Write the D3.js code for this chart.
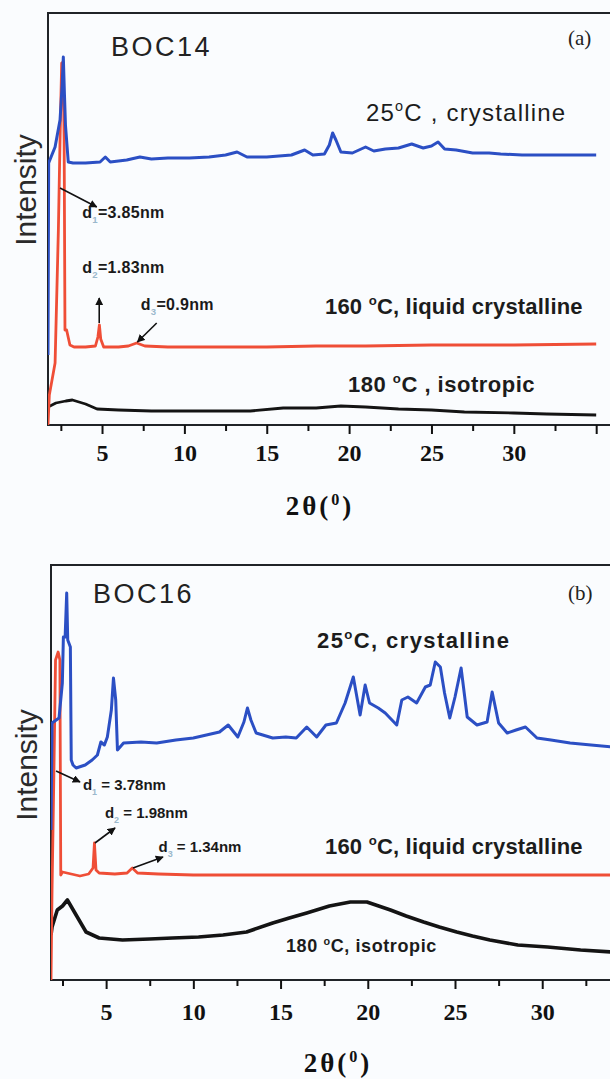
<!DOCTYPE html>
<html>
<head>
<meta charset="utf-8">
<script src="https://cdn.jsdelivr.net/npm/d3@7/dist/d3.min.js"></script>
<style>
  body { margin: 0; background: #fafcfe; }
  svg { display: block; }
</style>
</head>
<body>
<div id="chart"></div>
<script>
// ---- data: [2theta (deg), intensity (a.u.)] ----
// panel (a) BOC14
const boc14_25C = [[1.72,70],[1.76,262],[2.15,278],[2.45,305],[2.58,340],[2.65,368],[2.72,330],[2.78,300],[2.95,263],
  [3.24,262],[4.0,262],[4.88,263],[5.2,268],[5.5,263],[6.5,265],[7.3,268],[8,266],[9,267],[10.3,267],[11.5,268],
  [12.5,270],[13.2,273],[13.8,268],[15,268],[16.5,270],[17.3,275],[17.8,270],[18.5,271],[18.8,280],[19.0,292],
  [19.2,285],[19.5,273],[20.2,272],[21.0,278],[21.5,274],[22.2,276],[23.0,277],[23.8,281],[24.5,277],[25.0,279],
  [25.4,283],[25.8,276],[26.5,275],[27.5,272],[28.5,272],[29.2,271],[30.5,270],[32,270],[33.5,270],[35,270]];
const boc14_160C = [[1.72,0],[1.8,30],[2.15,62],[2.35,195],[2.45,285],[2.55,362],[2.63,363],[2.7,285],[2.75,95],
  [2.85,95],[3.05,80],[3.3,78],[4.0,78],[4.6,79],[4.75,88],[4.84,100],[4.92,86],[5.1,78],[6.0,78],[6.6,79],
  [7.1,82],[7.6,79],[9,78],[12,78],[15,78],[18,79],[21,79],[25,80],[30,80],[35,81]];
const boc14_180C = [[1.72,18],[2.2,22],[2.8,24],[3.2,25],[4.0,21],[4.7,16],[6,15],[8,14],[10,14],[12,14],[14,14],
  [16,17],[18,17],[19.5,19],[21,18],[23,16],[25,15],[27,13],[30,12],[32,11],[35,10]];

// panel (b) BOC16
const boc16_25C = [[1.84,150],[1.9,257],[2.3,262],[2.49,297],[2.55,343],[2.65,343],[2.74,387],[2.8,340],[2.95,333],
  [3.0,220],[3.1,215],[3.28,212],[3.8,215],[4.2,220],[4.5,225],[4.7,238],[4.9,235],[5.07,243],[5.3,270],[5.42,302],
  [5.55,280],[5.65,230],[6.0,237],[7.0,238],[7.9,237],[9.0,240],[10.0,242],[10.75,245],[11.5,248],[12.0,255],
  [12.55,243],[12.9,258],[13.1,272],[13.3,260],[13.6,247],[14.55,242],[15.3,243],[15.9,242],[16.5,253],[17.07,243],
  [17.6,255],[18.2,257],[18.7,277],[19.17,303],[19.56,265],[19.85,295],[20.1,277],[20.6,272],[21.0,267],[21.66,255],
  [21.95,280],[22.3,283],[22.8,277],[23.3,293],[23.58,295],[23.87,318],[24.16,313],[24.4,287],[24.7,262],[25.0,283],
  [25.35,312],[25.7,263],[26.26,255],[26.84,258],[27.13,288],[27.5,257],[27.99,247],[28.5,250],[29.04,253],
  [29.7,242],[30.5,240],[31.6,237],[32.8,235],[34,233]];
const boc16_160C = [[1.84,0],[1.9,90],[2.0,200],[2.1,320],[2.25,328],[2.35,320],[2.4,105],[2.5,108],[3.0,106],
  [3.5,104],[4.0,106],[4.25,112],[4.33,137],[4.42,110],[4.6,107],[5.5,106],[6.2,107],[6.5,112],[6.8,107],[8,106],
  [10,105],[15,105],[20,105],[25,105],[30,105],[34,105]];
const boc16_180C = [[1.84,45],[1.9,53],[2.2,70],[2.5,74],[2.78,80],[3.28,65],[3.85,48],[4.6,42],[5.94,40],[7.5,41],
  [8.8,42],[10.3,43],[11.7,45],[13.05,48],[14.55,57],[15.5,62],[16.5,67],[17.8,74],[19.0,78],[19.95,78],[21.3,70],
  [22.2,64],[23.2,58],[24.1,53],[25.1,48],[26,44],[27.0,40],[28.6,35],[30.3,33],[32.2,30],[34,28]];

const majorTicks = [5, 10, 15, 20, 25, 30, 35];
const minorTicks = [2.5, 7.5, 12.5, 17.5, 22.5, 27.5, 32.5];
const tickLabels = ["5", "10", "15", "20", "25", "30", ""];

const cBlue = "#2b4fc4", cRed = "#ef4e37", cBlack = "#141414";

const W = 610, H = 1079;
const svg = d3.select("#chart").append("svg")
  .attr("width", W).attr("height", H)
  .style("background", "#fafcfe");

const defs = svg.append("defs");
defs.append("marker")
  .attr("id", "arrow")
  .attr("viewBox", "0 0 10 10")
  .attr("refX", 9).attr("refY", 5)
  .attr("markerWidth", 5).attr("markerHeight", 5)
  .attr("orient", "auto")
  .append("path").attr("d", "M0,0 L10,5 L0,10 z").attr("fill", "#111");

const sans = "'Liberation Sans', Arial, sans-serif";
const serif = "'Liberation Serif', 'Times New Roman', serif";

function drawPanel(cfg) {
  const x = d3.scaleLinear().domain(cfg.xDomain).range([cfg.left, cfg.right]);
  const y = d3.scaleLinear().domain([0, cfg.yMax]).range([cfg.bottom, cfg.top]);
  const g = svg.append("g");

  defs.append("clipPath").attr("id", "clip-" + cfg.id)
    .append("rect")
    .attr("x", cfg.left).attr("y", cfg.top)
    .attr("width", cfg.right - cfg.left).attr("height", cfg.bottom - cfg.top);

  // frame
  g.append("path")
    .attr("d", `M${cfg.right},${cfg.top} L${cfg.left},${cfg.top} L${cfg.left},${cfg.bottom} L${cfg.right},${cfg.bottom}`)
    .attr("fill", "none").attr("stroke", "#202428").attr("stroke-width", 2);

  // x axis ticks
  const xAxis = g.append("g").attr("transform", `translate(0,${cfg.bottom})`)
    .call(d3.axisBottom(x).tickValues(majorTicks.filter(d => d <= cfg.xDomain[1]))
      .tickSize(9).tickPadding(cfg.tickPad)
      .tickFormat(d => tickLabels[majorTicks.indexOf(d)]));
  xAxis.select(".domain").remove();
  xAxis.selectAll(".tick line").attr("stroke", "#111").attr("stroke-width", 2);
  xAxis.selectAll(".tick text")
    .attr("fill", "#111").attr("font-family", serif).attr("font-weight", "bold").attr("font-size", 24);
  const xMinor = g.append("g").attr("transform", `translate(0,${cfg.bottom})`)
    .call(d3.axisBottom(x).tickValues(minorTicks.filter(d => d <= cfg.xDomain[1])).tickSize(6).tickFormat(""));
  xMinor.select(".domain").remove();
  xMinor.selectAll(".tick line").attr("stroke", "#111").attr("stroke-width", 2);

  // curves
  const line = d3.line().x(d => x(d[0])).y(d => y(d[1]));
  const curves = g.append("g").attr("clip-path", `url(#clip-${cfg.id})`);
  cfg.series.forEach(s => {
    curves.append("path").datum(s.data)
      .attr("fill", "none").attr("stroke", s.color)
      .attr("stroke-width", s.width).attr("stroke-linejoin", "round")
      .attr("d", line);
  });

  // arrows
  cfg.arrows.forEach(a => {
    g.append("line")
      .attr("x1", x(a[0][0])).attr("y1", y(a[0][1]))
      .attr("x2", x(a[1][0])).attr("y2", y(a[1][1]))
      .attr("stroke", "#111").attr("stroke-width", 1.6)
      .attr("marker-end", "url(#arrow)");
  });

  // d-spacing labels
  cfg.dLabels.forEach(l => {
    const t = g.append("text")
      .attr("x", x(l.at[0])).attr("y", y(l.at[1]))
      .attr("font-family", sans).attr("font-weight", "bold")
      .attr("font-size", l.size).attr("fill", "#1a1a1a")
      .attr("letter-spacing", l.ls);
    t.append("tspan").text("d");
    t.append("tspan").attr("dy", 5).attr("font-size", "0.6em").attr("fill", "#9ab8cc").text(l.sub);
    t.append("tspan").attr("dy", -5).text(l.text);
  });

  // condition labels
  cfg.conds.forEach(c => {
    const t = g.append("text")
      .attr("x", c.x).attr("y", c.y)
      .attr("font-family", sans).attr("font-weight", c.weight)
      .attr("font-size", c.size).attr("fill", "#1c1c1c")
      .attr("letter-spacing", c.ls);
    t.append("tspan").text(c.pre);
    t.append("tspan").attr("dy", -c.size * 0.4).attr("font-size", "0.6em").text("o");
    t.append("tspan").attr("dy", c.size * 0.4).text(c.post);
  });

  // sample name and panel tag
  g.append("text").attr("x", cfg.nameX).attr("y", cfg.nameY)
    .attr("font-family", sans).attr("font-size", 27).attr("letter-spacing", 2.5)
    .attr("fill", "#222").text(cfg.name);
  g.append("text").attr("x", 568).attr("y", cfg.tagY)
    .attr("font-family", serif).attr("font-size", 21).attr("fill", "#222").text(cfg.tag);

  // y label
  g.append("text")
    .attr("transform", `translate(${cfg.yLabX},${cfg.yLabY}) rotate(-90)`)
    .attr("text-anchor", "middle")
    .attr("font-family", sans).attr("font-size", 30).attr("fill", "#2a2a2a")
    .text("Intensity");

  // x label
  const xl = g.append("text")
    .attr("x", cfg.xLabX).attr("y", cfg.xLabY).attr("text-anchor", "middle")
    .attr("font-family", serif).attr("font-weight", "bold").attr("font-size", 27)
    .attr("letter-spacing", 3).attr("fill", "#111");
  xl.append("tspan").text("2θ(");
  xl.append("tspan").attr("dy", -10).attr("font-size", "0.6em").text("0");
  xl.append("tspan").attr("dy", 10).text(")");
}

drawPanel({
  id: "a", left: 48, right: 612, top: 13, bottom: 425,
  xDomain: [1.72, 35.96], yMax: 412, tickPad: 10,
  series: [
    { data: boc14_180C, color: cBlack, width: 2.8 },
    { data: boc14_160C, color: cRed, width: 2.8 },
    { data: boc14_25C, color: cBlue, width: 3 }
  ],
  arrows: [
    [[2.45, 237], [4.68, 218]],
    [[4.83, 102], [4.83, 127]],
    [[8.32, 102], [7.15, 83]]
  ],
  dLabels: [
    { at: [3.8, 207], sub: "1", text: "=3.85nm", size: 16, ls: 0.3 },
    { at: [3.8, 152], sub: "2", text: "=1.83nm", size: 16, ls: 0.3 },
    { at: [7.35, 115], sub: "3", text: "=0.9nm", size: 16, ls: 0.3 }
  ],
  conds: [
    { x: 366, y: 121, pre: "25", post: "C , crystalline", size: 24, weight: "normal", ls: 1.2 },
    { x: 325, y: 314, pre: "160 ", post: "C, liquid crystalline", size: 22, weight: "bold", ls: 0.2 },
    { x: 348, y: 392, pre: "180 ", post: "C , isotropic", size: 22, weight: "bold", ls: 0.5 }
  ],
  name: "BOC14", nameX: 111, nameY: 56, tag: "(a)", tagY: 45,
  yLabX: 36, yLabY: 190, xLabX: 320, xLabY: 515
});

drawPanel({
  id: "b", left: 51, right: 612, top: 565, bottom: 980,
  xDomain: [1.84, 34.0], yMax: 415, tickPad: 14,
  series: [
    { data: boc16_180C, color: cBlack, width: 3.6 },
    { data: boc16_160C, color: cRed, width: 2.8 },
    { data: boc16_25C, color: cBlue, width: 3 }
  ],
  arrows: [
    [[2.13, 209], [3.5, 198]],
    [[4.36, 137], [5.51, 152]],
    [[6.54, 112], [8.26, 123]]
  ],
  dLabels: [
    { at: [3.67, 190], sub: "1", text: " = 3.78nm", size: 15, ls: 0 },
    { at: [4.93, 162], sub: "2", text: " = 1.98nm", size: 15, ls: 0 },
    { at: [8.0, 128], sub: "3", text: " = 1.34nm", size: 15, ls: 0 }
  ],
  conds: [
    { x: 317, y: 648, pre: "25", post: "C, crystalline", size: 22, weight: "bold", ls: 1.4 },
    { x: 325, y: 854, pre: "160 ", post: "C, liquid crystalline", size: 22, weight: "bold", ls: 0.2 },
    { x: 286, y: 952, pre: "180 ", post: "C, isotropic", size: 18, weight: "bold", ls: 0.6 }
  ],
  name: "BOC16", nameX: 93, nameY: 603, tag: "(b)", tagY: 600,
  yLabX: 37, yLabY: 765, xLabX: 338, xLabY: 1072
});
</script>
</body>
</html>
